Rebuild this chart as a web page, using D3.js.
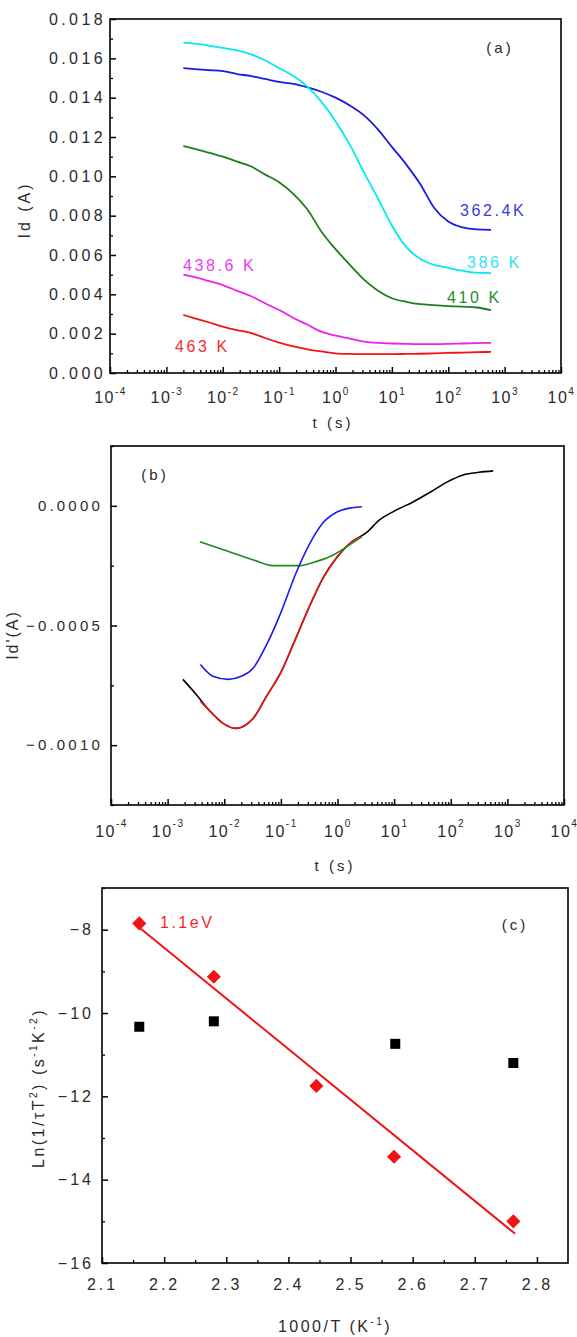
<!DOCTYPE html>
<html>
<head>
<meta charset="utf-8">
<script src="https://cdn.jsdelivr.net/npm/d3@7/dist/d3.min.js"></script>
<style>
  body { margin: 0; background: #fff; }
  text { font-family: "Liberation Sans", Arial, sans-serif; fill: #2a2a2a; }
</style>
</head>
<body>
<svg id="chart" width="577" height="1337"></svg>
<script>
// ---------- panel (a) : Id vs t ----------
var timesA = [0.002, 0.0032, 0.0056, 0.01, 0.018, 0.032, 0.056, 0.1, 0.18, 0.32, 0.56, 1,
  1.8, 3.2, 5.6, 10, 18, 32, 56, 100, 180, 320, 575];
var id362 = [0.0155, 0.01545, 0.0154, 0.01535, 0.0152, 0.0151, 0.01495, 0.0148, 0.0147, 0.01452, 0.0143, 0.014,
  0.0136, 0.0131, 0.0124, 0.0115, 0.0106, 0.0096, 0.0084, 0.0077, 0.0074, 0.0073, 0.00728];
var id386 = [0.0168, 0.01675, 0.01665, 0.01653, 0.0164, 0.0162, 0.0159, 0.0155, 0.0151, 0.01455, 0.0138, 0.0128,
  0.0116, 0.0102, 0.0089, 0.0075, 0.0064, 0.0058, 0.0055, 0.00535, 0.0052, 0.0051, 0.00508];
var id410 = [0.01154, 0.0114, 0.0112, 0.011, 0.01075, 0.0105, 0.0101, 0.0097, 0.0091, 0.0083, 0.0072, 0.0063,
  0.0055, 0.00475, 0.0042, 0.0038, 0.00362, 0.0035, 0.00345, 0.0034, 0.00337, 0.00333, 0.0032];
var id438 = [0.005, 0.00487, 0.00468, 0.00447, 0.00418, 0.0039, 0.00355, 0.0032, 0.0028, 0.00245, 0.0021, 0.0019,
  0.00175, 0.0016, 0.00153, 0.0015, 0.00148, 0.00147, 0.00147, 0.00148, 0.0015, 0.00152, 0.00153];
var id463 = [0.00295, 0.00278, 0.00258, 0.00236, 0.00218, 0.00203, 0.00178, 0.00155, 0.00135, 0.0012, 0.0011, 0.001,
  0.00097, 0.00096, 0.00096, 0.00096, 0.00097, 0.00098, 0.001, 0.00102, 0.00104, 0.00106, 0.00107];
var labelsA = ["362.4K", "386 K", "410 K", "438.6 K", "463 K"];
var yTicksA = [0, 0.002, 0.004, 0.006, 0.008, 0.01, 0.012, 0.014, 0.016, 0.018];

// ---------- panel (b) : Id' vs t ----------
var tBlack = [0.00186, 0.0032, 0.0056, 0.01, 0.016, 0.032, 0.056, 0.1, 0.18, 0.32, 0.56, 1,
  1.8, 3.2, 5.6, 10, 22, 44, 87, 166, 316, 562];
var dBlack = [-0.000725, -0.000788, -0.000858, -0.000912, -0.00093, -0.00089, -0.000795, -0.000696, -0.000558, -0.00042, -0.0003, -0.000212,
  -0.00015, -0.000113, -0.000058, -0.000022, 0.000017, 0.000058, 0.0001, 0.000129, 0.00014, 0.000146];
var tRed = [0.0038, 0.0056, 0.01, 0.016, 0.032, 0.056, 0.1, 0.18, 0.32, 0.56, 1, 1.8, 2.5];
var dRed = [-0.000817, -0.000858, -0.000912, -0.00093, -0.00089, -0.000795, -0.000696, -0.000558, -0.00042, -0.0003, -0.000212, -0.00015, -0.000129];
var tBlue = [0.0038, 0.0063, 0.0117, 0.02, 0.032, 0.056, 0.1, 0.18, 0.32, 0.56, 1, 1.8, 2.7];
var dBlue = [-0.000663, -0.000712, -0.000725, -0.000712, -0.00068, -0.00058, -0.000446, -0.000288, -0.00016, -0.00007, -0.000025, -0.000008, -0.000004];
var tGreen = [0.0037, 0.01, 0.032, 0.072, 0.22, 0.37, 0.74, 1.48, 2.7];
var dGreen = [-0.00015, -0.000185, -0.000225, -0.00025, -0.00025, -0.000237, -0.000212, -0.00017, -0.000129];
var yTicksB = [0, -0.0005, -0.001];

// ---------- panel (c) : Arrhenius ----------
var invTred = [2.16, 2.28, 2.445, 2.57, 2.762];
var lnRed = [-7.85, -9.13, -11.75, -13.45, -15.0];
var invTblack = [2.16, 2.28, 2.572, 2.762];
var lnBlack = [-10.33, -10.2, -10.74, -11.2];
var fitX = [2.16, 2.765];
var fitY = [-7.95, -15.3];
var xTicksC = [2.1, 2.2, 2.3, 2.4, 2.5, 2.6, 2.7, 2.8];
var yTicksC = [-8, -10, -12, -14, -16];

var decades = [1e-4, 1e-3, 1e-2, 1e-1, 1, 10, 100, 1000, 10000];

var svg = d3.select("#chart");

// log minor ticks 2..9 in each decade
function logMinors() {
  var out = [];
  for (var k = -4; k < 4; k++) {
    for (var m = 2; m < 10; m++) out.push(m * Math.pow(10, k));
  }
  return out;
}

function frame(dims) {
  svg.append("rect")
    .attr("x", dims.left).attr("y", dims.top)
    .attr("width", dims.right - dims.left).attr("height", dims.bottom - dims.top)
    .attr("fill", "none").attr("stroke", "#000").attr("stroke-width", 1.6);
}

// bottom log axis with 10^n labels
function logAxis(x, dims, labelY, expDy) {
  var g = svg.append("g").attr("transform", "translate(0," + dims.bottom + ")");
  g.call(d3.axisBottom(x).tickValues(logMinors()).tickSizeInner(-3).tickSizeOuter(0).tickFormat(""));
  var gm = svg.append("g").attr("transform", "translate(0," + dims.bottom + ")");
  gm.call(d3.axisBottom(x).tickValues(decades).tickSizeInner(-6).tickSizeOuter(0));
  gm.selectAll(".tick text").each(function (d) {
    var t = d3.select(this);
    t.text(null).attr("y", labelY).attr("dy", null)
      .style("font-size", "16px").style("letter-spacing", "1.5px").attr("fill", "#2a2a2a");
    t.append("tspan").text("10");
    t.append("tspan").attr("dy", expDy).style("font-size", "10px").text(Math.round(Math.log10(d)));
  });
  g.select(".domain").remove();
  gm.select(".domain").remove();
  g.selectAll("line").attr("stroke", "#000").attr("stroke-width", 1.3);
  gm.selectAll("line").attr("stroke", "#000").attr("stroke-width", 1.5);
}

function leftAxis(y, dims, majors, minors, fmt, fontSize, spacing, pad) {
  svg.append("g").attr("transform", "translate(" + dims.left + ",0)")
    .call(d3.axisLeft(y).tickValues(minors).tickSizeInner(-3).tickSizeOuter(0).tickFormat(""))
    .call(function (g) { g.select(".domain").remove(); g.selectAll("line").attr("stroke", "#000").attr("stroke-width", 1.3); });
  var gm = svg.append("g").attr("transform", "translate(" + dims.left + ",0)")
    .call(d3.axisLeft(y).tickValues(majors).tickSizeInner(-6).tickSizeOuter(0).tickPadding(pad).tickFormat(fmt));
  gm.select(".domain").remove();
  gm.selectAll("line").attr("stroke", "#000").attr("stroke-width", 1.5);
  gm.selectAll("text").style("font-size", fontSize + "px").style("letter-spacing", spacing + "px").attr("fill", "#2a2a2a");
}

function title(x, y, rot, size, spacing, parts) {
  var t = svg.append("text")
    .attr("transform", "translate(" + x + "," + y + ")" + (rot ? " rotate(-90)" : ""))
    .attr("text-anchor", "middle")
    .style("font-size", size + "px")
    .style("letter-spacing", spacing + "px");
  parts.forEach(function (p) {
    var s = t.append("tspan").text(p[0]);
    if (p[1]) s.attr("dy", p[1]);
    if (p[2]) s.style("font-size", p[2] + "px");
  });
  return t;
}

//---------------- (a) ----------------
var dimsA = { left: 110, right: 561, top: 19, bottom: 373 };
var xA = d3.scaleLog().domain([1e-4, 1e4]).range([dimsA.left, dimsA.right]);
var yA = d3.scaleLinear().domain([0, 0.018]).range([dimsA.bottom, dimsA.top]);

var seriesA = [id362, id386, id410, id438, id463];
var colorsA = ["#1a1ae6", "#00eaf0", "#1e7d1e", "#f020f0", "#f01414"];
var lineA = d3.line().curve(d3.curveMonotoneX)
  .x(function (d) { return xA(d[0]); }).y(function (d) { return yA(d[1]); });

seriesA.forEach(function (s, i) {
  svg.append("path")
    .datum(d3.zip(timesA, s))
    .attr("fill", "none")
    .attr("stroke", colorsA[i])
    .attr("stroke-width", 1.8)
    .attr("d", lineA);
});

// curve labels
var labelPosA = [[460, 216], [467, 268], [447, 303], [183, 271], [175, 352]];
var labelColA = ["#3a3ad8", "#2ee6ee", "#2a8a2a", "#ee3cee", "#f03030"];
labelsA.forEach(function (l, i) {
  svg.append("text")
    .attr("x", labelPosA[i][0]).attr("y", labelPosA[i][1])
    .style("font-size", "16px").style("letter-spacing", "2.6px")
    .style("fill", labelColA[i])
    .text(l);
});

var minorA = d3.range(0.001, 0.018, 0.002);
leftAxis(yA, dimsA, yTicksA, minorA, d3.format(".3f"), 16, 3.4, 4);
logAxis(xA, dimsA, 30, "-8");
frame(dimsA);

svg.append("text").attr("x", 500).attr("y", 53).attr("text-anchor", "middle")
  .style("font-size", "15px").style("letter-spacing", "3px").text("(a)");
title(30, 210, true, 16, 3, [["Id (A)"]]);
title(333, 428, false, 15, 3, [["t (s)"]]);

//---------------- (b) ----------------
var dimsB = { left: 111, right: 564, top: 446, bottom: 805 };
var xB = d3.scaleLog().domain([1e-4, 1e4]).range([dimsB.left, dimsB.right]);
var yB = d3.scaleLinear().domain([-0.00125, 0.00025]).range([dimsB.bottom, dimsB.top]);
var lineB = d3.line().curve(d3.curveMonotoneX)
  .x(function (d) { return xB(d[0]); }).y(function (d) { return yB(d[1]); });

var seriesB = [[tBlack, dBlack, "#000"], [tRed, dRed, "#f01414"], [tGreen, dGreen, "#1e8a1e"], [tBlue, dBlue, "#1a1af0"]];
seriesB.forEach(function (s) {
  svg.append("path")
    .datum(d3.zip(s[0], s[1]))
    .attr("fill", "none")
    .attr("stroke", s[2])
    .attr("stroke-width", 1.6)
    .attr("d", lineB);
});

leftAxis(yB, dimsB, yTicksB, [0.00025, -0.00025, -0.00075, -0.00125], d3.format(".4f"), 15, 3.2, 8);
logAxis(xB, dimsB, 32, "-10");
frame(dimsB);

svg.append("text").attr("x", 155).attr("y", 480).attr("text-anchor", "middle")
  .style("font-size", "15px").style("letter-spacing", "3px").text("(b)");
title(18, 635, true, 16, 2, [["Id'(A)"]]);
title(335, 871, false, 15, 3, [["t (s)"]]);

//---------------- (c) ----------------
var dimsC = { left: 102, right: 568, top: 888, bottom: 1263 };
var xC = d3.scaleLinear().domain([2.1, 2.85]).range([dimsC.left, dimsC.right]);
var yC = d3.scaleLinear().domain([-16, -7]).range([dimsC.bottom, dimsC.top]);

svg.append("path")
  .datum(d3.zip(fitX, fitY))
  .attr("fill", "none").attr("stroke", "#f01414").attr("stroke-width", 2)
  .attr("d", d3.line().x(function (d) { return xC(d[0]); }).y(function (d) { return yC(d[1]); }));

svg.selectAll(".sq")
  .data(d3.zip(invTblack, lnBlack))
  .enter().append("rect")
  .attr("x", function (d) { return xC(d[0]) - 5; })
  .attr("y", function (d) { return yC(d[1]) - 5; })
  .attr("width", 10).attr("height", 10)
  .attr("fill", "#000");

svg.selectAll(".dm")
  .data(d3.zip(invTred, lnRed))
  .enter().append("path")
  .attr("transform", function (d) { return "translate(" + xC(d[0]) + "," + yC(d[1]) + ") rotate(45)"; })
  .attr("d", "M-5,-5H5V5H-5Z")
  .attr("fill", "#f01414");

svg.append("g").attr("transform", "translate(0," + dimsC.bottom + ")")
  .call(d3.axisBottom(xC).tickValues([2.15, 2.25, 2.35, 2.45, 2.55, 2.65, 2.75]).tickSizeInner(-3).tickSizeOuter(0).tickFormat(""))
  .call(function (g) { g.select(".domain").remove(); g.selectAll("line").attr("stroke", "#000").attr("stroke-width", 1.3); });
var gxc = svg.append("g").attr("transform", "translate(0," + dimsC.bottom + ")")
  .call(d3.axisBottom(xC).tickValues(xTicksC).tickSizeInner(-6).tickSizeOuter(0).tickFormat(d3.format(".1f")));
gxc.select(".domain").remove();
gxc.selectAll("line").attr("stroke", "#000").attr("stroke-width", 1.5);
gxc.selectAll("text").attr("y", 27).attr("dy", null)
  .style("font-size", "16px").style("letter-spacing", "3px").attr("fill", "#2a2a2a");

leftAxis(yC, dimsC, yTicksC, [-7, -9, -11, -13, -15], d3.format("d"), 16, 3, 8);
frame(dimsC);

svg.append("text").attr("x", 160).attr("y", 928)
  .style("font-size", "16px").style("letter-spacing", "2.5px").style("fill", "#f02828").text("1.1eV");
svg.append("text").attr("x", 515).attr("y", 930).attr("text-anchor", "middle")
  .style("font-size", "15px").style("letter-spacing", "3px").text("(c)");

title(44, 1088, true, 16, 2.5, [["Ln(1/\u03c4T"], ["2", "-7", 10], [") (s", "7"], ["-1", "-7", 10], ["K", "7"], ["-2", "-7", 10], [")", "7"]]);
title(335, 1332, false, 16, 2.5, [["1000/T (K"], ["-1", "-7", 10], [")", "7"]]);
</script>
</body>
</html>
